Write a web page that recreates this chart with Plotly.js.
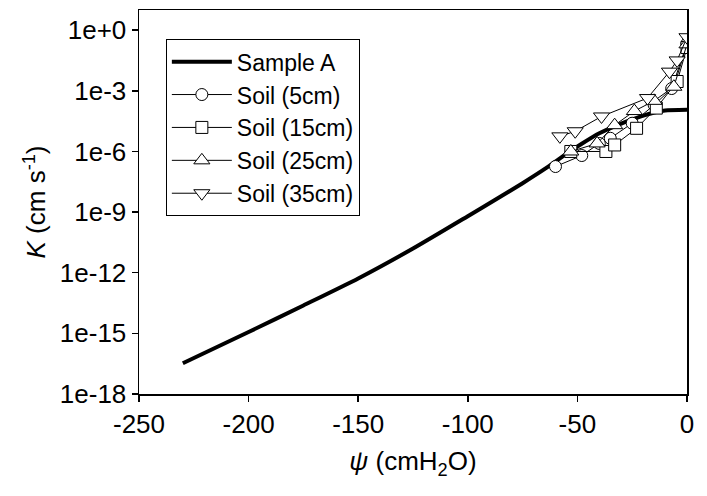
<!DOCTYPE html>
<html>
<head>
<meta charset="utf-8">
<script src="https://cdn.plot.ly/plotly-3.0.1.min.js"></script>
<style>html,body{margin:0;padding:0;background:#fff;}#chart{width:707px;height:496px;}</style>
</head>
<body>
<div id="chart"></div>
<script>
// Sample A (model curve)
var sampleA_psi = [-230, -200, -175, -150, -125, -100, -85, -75, -64, -55, -48, -40, -30, -21, -15, -10, 0];
var sampleA_K = [3.3e-17, 1.17e-15, 2.4e-14, 5.2e-13, 1.58e-11, 6.3e-10, 5.9e-9, 2.7e-8, 1.58e-7, 7.6e-7, 2.4e-6, 7.9e-6, 2.4e-5, 5.4e-5, 8.5e-5, 1.07e-4, 1.15e-4];

// Soil measurements
var soil5_psi = [-60, -48, -40, -35, -25, -15, -7, 0];
var soil5_K = [1.8e-7, 6.3e-7, 2.5e-6, 4.5e-6, 2.5e-5, 2.0e-4, 1.3e-3, 0.22];

var soil15_psi = [-53, -37, -33, -23, -14, -4.5, 0];
var soil15_K = [1.0e-6, 1.0e-6, 2.1e-6, 1.4e-5, 1.4e-4, 2.9e-3, 0.14];

var soil25_psi = [-53, -41, -33, -24, -15, -6, 0];
var soil25_K = [1.0e-6, 2.5e-6, 2.0e-5, 1.0e-4, 3.2e-4, 1.6e-3, 0.2];

var soil35_psi = [-58, -51, -39, -18, -8, -4.5, 0];
var soil35_K = [5.6e-6, 1.0e-5, 5.4e-5, 4.4e-4, 8.9e-3, 3.2e-2, 0.45];

var seriesNames = ["Sample A", "Soil (5cm)", "Soil (15cm)", "Soil (25cm)", "Soil (35cm)"];
var xTickVals = [-250, -200, -150, -100, -50, 0];
var xTickText = ["-250", "-200", "-150", "-100", "-50", "0"];
var yTickVals = [1e-18, 1e-15, 1e-12, 1e-9, 1e-6, 1e-3, 1e0];
var yTickText = ["1e-18", "1e-15", "1e-12", "1e-9", "1e-6", "1e-3", "1e+0"];

var FONT = "Liberation Sans, Arial, sans-serif";

function soilTrace(name, x, y, sym, size) {
  return {
    x: x, y: y, name: name, type: "scatter", mode: "lines+markers",
    line: {color: "#000", width: 1},
    marker: {symbol: sym, size: size, color: "#fff", line: {color: "#000", width: 1}}
  };
}

var data = [
  {x: sampleA_psi, y: sampleA_K, name: seriesNames[0], type: "scatter", mode: "lines",
   line: {color: "#000", width: 4, shape: "spline", smoothing: 0.6}},
  soilTrace(seriesNames[1], soil5_psi, soil5_K, "circle", 12),
  soilTrace(seriesNames[2], soil15_psi, soil15_K, "square", 12),
  soilTrace(seriesNames[3], soil25_psi, soil25_K, "triangle-up", 14),
  soilTrace(seriesNames[4], soil35_psi, soil35_K, "triangle-down", 14)
];

var layout = {
  width: 707, height: 496,
  margin: {l: 139, r: 20, t: 10, b: 102},
  paper_bgcolor: "#fff", plot_bgcolor: "#fff",
  font: {family: FONT, color: "#000", size: 26},
  showlegend: true,
  legend: {
    x: 0.049, y: 0.924, xanchor: "left", yanchor: "top",
    bgcolor: "#fff", bordercolor: "#000", borderwidth: 1,
    itemwidth: 60,
    font: {family: FONT, size: 23, color: "#000"}
  },
  xaxis: {
    range: [-250, 0], tickvals: xTickVals, ticktext: xTickText,
    showgrid: false, zeroline: false,
    showline: true, linecolor: "#000", linewidth: 1.5, mirror: true,
    ticks: "outside", ticklen: 6, tickwidth: 1.5, tickcolor: "#000",
    tickfont: {family: FONT, size: 26},
    title: {text: "<i>ψ</i> (cmH<sub>2</sub>O)", font: {family: FONT, size: 26}, standoff: 14}
  },
  yaxis: {
    type: "log", range: [-18, 1], tickvals: yTickVals, ticktext: yTickText,
    showgrid: false, zeroline: false,
    showline: true, linecolor: "#000", linewidth: 1.5, mirror: true,
    ticks: "outside", ticklen: 6, tickwidth: 1.5, tickcolor: "#000",
    tickfont: {family: FONT, size: 26},
    title: {text: "<i>K</i> (cm s<sup>-1</sup>)", font: {family: FONT, size: 26}, standoff: 6}
  }
};

Plotly.newPlot("chart", data, layout, {displayModeBar: false, staticPlot: true});
</script>
</body>
</html>
